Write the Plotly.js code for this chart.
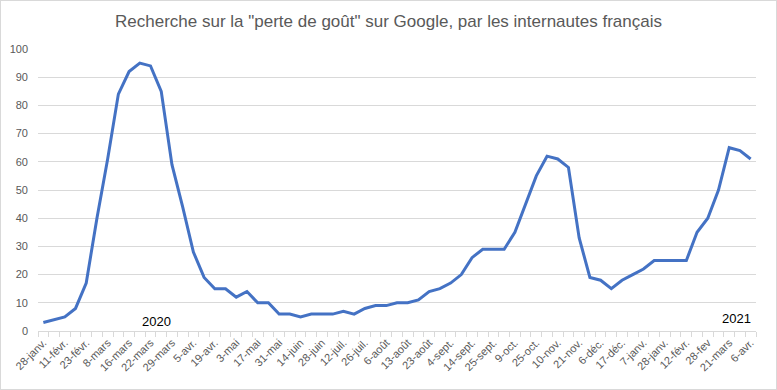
<!DOCTYPE html>
<html>
<head>
<meta charset="utf-8">
<script src="https://cdn.plot.ly/plotly-3.0.1.min.js"></script>
<style>
html,body{margin:0;padding:0;background:#fff;}
#wrap{position:relative;width:777px;height:390px;}
#chart{width:777px;height:390px;}
#frame{position:absolute;left:0;top:0;width:775px;height:388px;border:1px solid #d9d9d9;pointer-events:none;}
</style>
</head>
<body>
<div id="wrap"><div id="chart"></div><div id="frame"></div></div>
<script>
// Tick labels (every other week shown)
const tickLabels = ["28-janv.","11-févr.","23-févr.","8-mars","16-mars","22-mars","29-mars","5-avr.","19-avr.","3-mai","17-mai","31-mai","14-juin","28-juin","12-juil.","26-juil.","6-août","13-août","23-août","4-sept.","14-sept.","25-sept.","9-oct.","25-oct.","10-nov.","21-nov.","6-déc.","17-déc.","7-janv.","28-janv.","12-févr.","28-fev","21-mars","6-avr."];
// Search interest values, one per week (67 points)
const values = [3,4,5,8,17,40,61,84,92,95,94,85,59,44,28,19,15,15,12,14,10,10,6,6,5,6,6,6,7,6,8,9,9,10,10,11,14,15,17,20,26,29,29,29,35,45,55,62,61,58,33,19,18,15,18,20,22,25,25,25,25,35,40,50,65,64,61];
const yearLabels = ["2020","2021"];

const xIdx = values.map((v,i)=>i);
const tickVals = tickLabels.map((t,i)=>i*2);

const trace = {
  x: xIdx, y: values, type:'scatter', mode:'lines',
  line:{color:'#4472C4', width:3}, hoverinfo:'skip'
};

const layout = {
  width:777, height:390,
  margin:{l:38, r:21, t:49, b:59},
  paper_bgcolor:'#fff', plot_bgcolor:'#fff',
  showlegend:false,
  title:{text:'Recherche sur la "perte de goût" sur Google, par les internautes français',
    font:{family:'"Liberation Sans", Arial, sans-serif', size:17, color:'#595959'},
    x:0.5, xanchor:'center', y:0.945, yanchor:'middle'},
  font:{family:'"Liberation Sans", Arial, sans-serif', size:11, color:'#595959'},
  xaxis:{range:[-0.5, values.length-0.5], tickmode:'array', tickvals:tickVals, ticktext:tickLabels,
    tickangle:-45, ticks:'', showgrid:false, zeroline:false, showline:true, linecolor:'#d9d9d9', linewidth:1,
    tickfont:{size:11, color:'#595959'},
    minor:{tickmode:'linear', tick0:-0.5, dtick:1, ticks:'outside', ticklen:5, tickcolor:'#d9d9d9', showgrid:false},
    fixedrange:true},
  yaxis:{range:[0,100], tickmode:'linear', tick0:0, dtick:10, showgrid:true, gridcolor:'#d9d9d9', gridwidth:1,
    zeroline:false, showline:false, ticks:'', tickfont:{size:11, color:'#595959'}, ticklabelstandoff:9, fixedrange:true},
  annotations:[
    {x:10.6, y:3.2, xref:'x', yref:'y', text:yearLabels[0], showarrow:false, font:{size:13, color:'#000', family:'"Liberation Sans", Arial, sans-serif'}},
    {x:64.7, y:4.6, xref:'x', yref:'y', text:yearLabels[1], showarrow:false, font:{size:13, color:'#000', family:'"Liberation Sans", Arial, sans-serif'}}
  ]
};
Plotly.newPlot('chart',[trace],layout,{displayModeBar:false, staticPlot:true});
</script>
</body>
</html>
